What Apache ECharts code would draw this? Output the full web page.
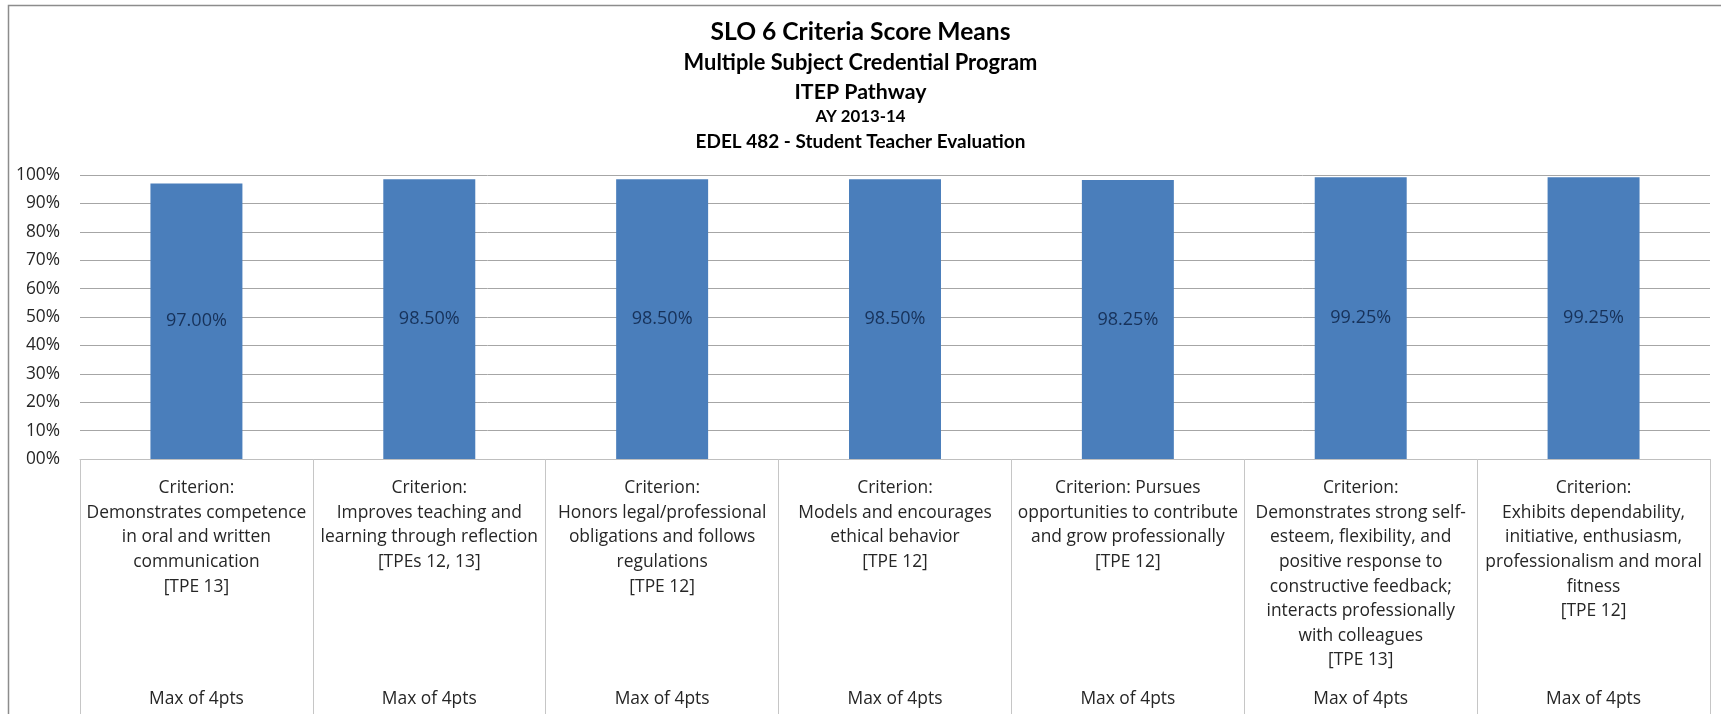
<!DOCTYPE html>
<html>
<head>
<meta charset="utf-8">
<script src="https://cdn.jsdelivr.net/npm/echarts@6/dist/echarts.min.js"></script>
<style>
html,body{margin:0;padding:0;background:#fff;}
#chart{width:1721px;height:714px;}
</style>
</head>
<body>
<div id="chart"></div>
<script>
// ---- data ----
const titleLines = [
  "SLO 6 Criteria Score Means",
  "Multiple Subject Credential Program",
  "ITEP Pathway",
  "AY 2013-14",
  "EDEL 482 - Student Teacher Evaluation"
];
const categories = [
  "Criterion:\nDemonstrates competence\nin oral and written\ncommunication\n[TPE 13]",
  "Criterion:\nImproves teaching and\nlearning through reflection\n[TPEs 12, 13]",
  "Criterion:\nHonors legal/professional\nobligations and follows\nregulations\n[TPE 12]",
  "Criterion:\nModels and encourages\nethical behavior\n[TPE 12]",
  "Criterion: Pursues\nopportunities to contribute\nand grow professionally\n[TPE 12]",
  "Criterion:\nDemonstrates strong self-\nesteem, flexibility, and\npositive response to\nconstructive feedback;\ninteracts professionally\nwith colleagues\n[TPE 13]",
  "Criterion:\nExhibits dependability,\ninitiative, enthusiasm,\nprofessionalism and moral\nfitness\n[TPE 12]"
];
const maxLabels = ["Max of 4pts","Max of 4pts","Max of 4pts","Max of 4pts","Max of 4pts","Max of 4pts","Max of 4pts"];
const scores = [97.00, 98.50, 98.50, 98.50, 98.25, 99.25, 99.25];
const yTicks = [0,10,20,30,40,50,60,70,80,90,100];
const yTickLabels = ["00%","10%","20%","30%","40%","50%","60%","70%","80%","90%","100%"];

// ---- layout (sizes fitted to the widths seen in the reference) ----
const titleFont = "Lato, 'Noto Sans', sans-serif";
const labelFont = "'Open Sans', 'Noto Sans', sans-serif";
const mctx = document.createElement('canvas').getContext('2d');
function fitSize(text, weight, family, targetW) {
  mctx.font = weight + ' 100px ' + family;
  return 100 * targetW / mctx.measureText(text).width;
}
const titleWidths = [300, 354, 132, 90, 330];
const titleCenters = [32, 63, 92, 117, 142];
const titleSizes = titleLines.map((t, i) => fitSize(t, 'bold', titleFont, titleWidths[i]));
const catSize = fitSize("Demonstrates competence", 'normal', labelFont, 220);
const ySize = fitSize("100%", 'normal', labelFont, 44);
const barLabelSize = fitSize("97.00%", 'normal', labelFont, 61);

// ---- chart ----
const chart = echarts.init(document.getElementById('chart'), null, {renderer:'canvas'});
const option = {
  backgroundColor: '#fff',
  animation: false,
  graphic: [{
    type: 'rect', left: 6, top: 3, silent: true,
    shape: {width: 1800, height: 800},
    style: {fill: 'none', stroke: '#8c8c8c', lineWidth: 1.5}
  }],
  title: titleLines.map((t, i) => {
    const lh = Math.round(titleSizes[i] * 1.2);
    return {
      text: t, left: 'center', top: titleCenters[i] - lh / 2, padding: 0,
      textStyle: {fontFamily: titleFont, fontWeight: 'bold', fontSize: titleSizes[i],
        lineHeight: lh, color: '#000'}
    };
  }),
  grid: {left: 80, right: 11, top: 175, bottom: 255, containLabel: false},
  xAxis: [{
    type: 'category',
    data: categories,
    axisLine: {show: true, lineStyle: {color: '#bfbfbf', width: 1}},
    axisTick: {show: true, length: 256, lineStyle: {color: '#c6c6c6', width: 1}},
    axisLabel: {
      interval: 0, margin: 17, fontFamily: labelFont, fontSize: catSize,
      lineHeight: 24.6, color: '#262626', align: 'center', verticalAlign: 'top'
    }
  }, {
    type: 'category',
    data: maxLabels,
    position: 'bottom',
    axisLine: {show: false},
    axisTick: {show: false},
    axisLabel: {
      interval: 0, margin: 228, fontFamily: labelFont, fontSize: catSize,
      lineHeight: 24.6, color: '#262626', verticalAlign: 'top'
    }
  }],
  yAxis: {
    type: 'value', min: 0, max: 100, interval: 10,
    axisLine: {show: false},
    axisTick: {show: false},
    splitLine: {show: true, lineStyle: {color: '#a6a6a6', width: 1}},
    axisLabel: {
      margin: 20, fontFamily: labelFont, fontSize: ySize, color: '#262626',
      formatter: v => yTickLabels[yTicks.indexOf(Math.round(v))]
    }
  },
  series: [{
    type: 'bar',
    data: scores,
    barWidth: '39.5%',
    itemStyle: {color: '#4a7ebb'},
    label: {
      show: true, position: 'inside',
      fontFamily: labelFont, fontSize: barLabelSize, color: '#17325a',
      formatter: p => p.value.toFixed(2) + '%'
    }
  }]
};
chart.setOption(option);
</script>
</body>
</html>
